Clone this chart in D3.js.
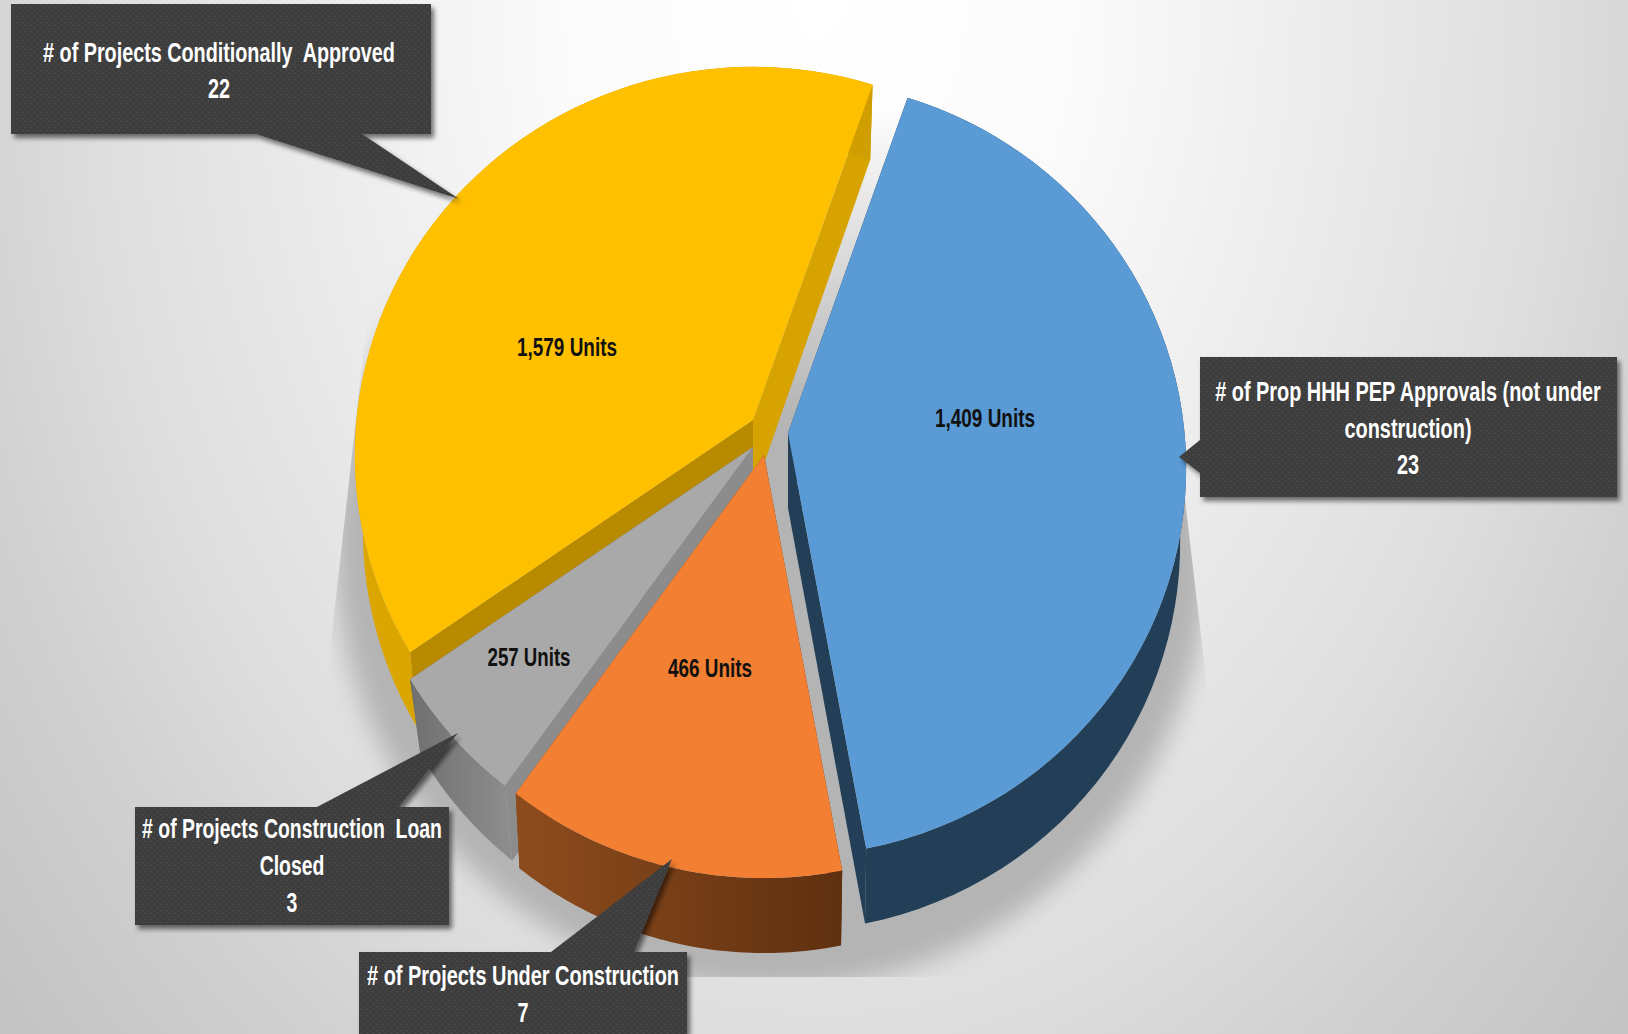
<!DOCTYPE html>
<html>
<head>
<meta charset="utf-8">
<script src="https://cdn.jsdelivr.net/npm/d3@7"></script>
<style>
html, body { margin: 0; padding: 0; background: #fff; overflow: hidden; }
svg { display: block; }
text { font-family: "Liberation Sans", sans-serif; font-weight: bold; text-anchor: middle; white-space: pre; }
</style>
</head>
<body>
<div id="chart"></div>
<script>
// data, clockwise from the blue slice
var categories = ["# of Prop HHH PEP Approvals (not under construction)", "# of Projects Under Construction", "# of Projects Construction Loan Closed", "# of Projects Conditionally  Approved"];
var projects = [23, 7, 3, 22];
var units = [1409, 466, 257, 1579];

var width = 1628, height = 1034;

// 3d look of the pie
var radius = 385, stretchX = 1.03, persp = 0.09, depth = 75;
var converge = [0.985, 0.985, 0.97, 0.98];
var startDeg = 19.1;
var apex = [[788, 433], [764, 455], [753, 447], [753, 420]];
var topColors = ["#5B9BD5", "#F37F32", "#A9A9A9", "#FFC000"];
var rimColors = [["#223F57", "#223F57"], ["#8E4C1D", "#5F3010"], ["#6F6F6F", "#8E8E8E"], ["#DBA600", "#CF9E00"]];
var cutStart = ["#223F57", "#5F3010", "#8C8C8C", "#B88A00"];
var cutEnd = ["#223F57", "#8E4C1D", "#6A6A6A", "#D6A300"];
var drawOrder = [3, 2, 1, 0];

// callout boxes: x, y, w, h, pointer, and where the text lines sit
var callouts = [
    {i: 0, box: [1200, 357, 417, 140], ptr: [[1200, 440], [1179, 457], [1200, 473]], split: ["# of Prop HHH PEP Approvals (not under", "construction)"], base: [401, 438, 474], cx: 1408, fit: 386},
    {i: 1, box: [359, 952, 328, 82], ptr: [[551, 952], [672, 859], [634, 952]], split: ["# of Projects Under Construction"], base: [985, 1022], cx: 523, fit: 312},
    {i: 2, box: [135, 807, 314, 118], ptr: [[317, 807], [458, 733], [399, 807]], split: ["# of Projects Construction  Loan", "Closed"], base: [838, 875, 912], cx: 292, fit: 300},
    {i: 3, box: [11, 4, 420, 130], ptr: [[256, 134], [459, 199], [362, 134]], split: ["# of Projects Conditionally  Approved"], base: [62, 98], cx: 219, fit: 352}
];
var labelPos = [[985, 418, 100], [710, 668, 84], [529, 657, 83], [567, 347, 100]];

var svg = d3.select("#chart").append("svg").attr("width", width).attr("height", height);
var defs = svg.append("defs");

var bg = defs.append("radialGradient").attr("id", "bg").attr("gradientUnits", "userSpaceOnUse")
    .attr("cx", 0).attr("cy", 0).attr("r", 1)
    .attr("gradientTransform", "translate(820,0) scale(1105,1560)");
[[0, "#ffffff"], [0.23, "#fbfbfb"], [0.66, "#dedede"], [0.81, "#d0d0d0"], [1, "#c2c2c2"]].forEach(s => {
    bg.append("stop").attr("offset", s[0]).attr("stop-color", s[1]);
});

var fade = defs.append("linearGradient").attr("id", "shade").attr("gradientUnits", "userSpaceOnUse")
    .attr("x1", 0).attr("x2", 0).attr("y1", 110).attr("y2", 420);
fade.append("stop").attr("offset", "0").attr("stop-color", "#b4b4b4").attr("stop-opacity", 0);
fade.append("stop").attr("offset", "1").attr("stop-color", "#b4b4b4").attr("stop-opacity", 1);

defs.append("filter").attr("id", "blur").attr("x", "-20%").attr("y", "-20%").attr("width", "140%").attr("height", "140%")
    .append("feGaussianBlur").attr("stdDeviation", 13);
var drop = defs.append("filter").attr("id", "drop").attr("x", "-10%").attr("y", "-10%").attr("width", "120%").attr("height", "125%");
drop.append("feDropShadow").attr("dx", 3).attr("dy", 4).attr("stdDeviation", 2.5).attr("flood-color", "#000").attr("flood-opacity", 0.55);

var dots = defs.append("pattern").attr("id", "dots").attr("patternUnits", "userSpaceOnUse").attr("width", 6).attr("height", 6);
dots.append("rect").attr("width", 6).attr("height", 6).attr("fill", "#3c3c3c");
dots.append("circle").attr("cx", 1.5).attr("cy", 1.5).attr("r", 1).attr("fill", "#4b4b4b");
dots.append("circle").attr("cx", 4.5).attr("cy", 4.5).attr("r", 1).attr("fill", "#4b4b4b");

var line = d3.line();

// the shadow has sharp slanted sides and a flat floor
defs.append("clipPath").attr("id", "floor").append("path")
    .attr("d", line([[390, 110], [1100, 110], [1100, 300], [1180, 460], [1185, 500], [1205, 670], [1214, 780], [1214, 977], [318, 977], [322, 760], [332, 633], [360, 383]]) + "Z");

svg.append("rect").attr("width", width).attr("height", height).attr("fill", "url(#bg)");

// pie angles, from the project counts
var arcs = d3.pie().sort(null).value(d => d)
    .startAngle(startDeg * Math.PI / 180)
    .endAngle((startDeg + 360) * Math.PI / 180)(projects);

var xScale = d3.scaleLinear().domain([-1, 1]).range([-radius * stretchX, radius * stretchX]);
var yScale = d3.scaleLinear().domain([-1, 1]).range([-radius, radius]);

function project(i, a, low) {
    var X = Math.sin(a), Y = -Math.cos(a);
    var f = 1 / (1 - persp * Y);
    var x = xScale(X) * f, y = yScale(Y) * f;
    if (low) return [apex[i][0] + x * converge[i], apex[i][1] + y + depth];
    return [apex[i][0] + x, apex[i][1] + y];
}

function rimPoints(i, low) {
    var a0 = arcs[i].startAngle, a1 = arcs[i].endAngle;
    return d3.range(0, 61).map(k => project(i, a0 + (a1 - a0) * k / 60, low));
}

// soft shadow under the pie
svg.append("g").attr("clip-path", "url(#floor)")
    .append("ellipse").attr("cx", 772).attr("cy", 545).attr("rx", 438).attr("ry", 445)
    .attr("fill", "url(#shade)").attr("filter", "url(#blur)");

var sliceG = svg.append("g");
drawOrder.forEach(i => {
    var grad = defs.append("linearGradient").attr("id", "rim" + i);
    grad.append("stop").attr("offset", "0").attr("stop-color", rimColors[i][0]);
    grad.append("stop").attr("offset", "1").attr("stop-color", rimColors[i][1]);

    var top = rimPoints(i, false), low = rimPoints(i, true);
    var apexTop = apex[i], apexLow = [apex[i][0], apex[i][1] + depth];

    sliceG.append("path").attr("d", line([apexTop, top[60], low[60], apexLow]) + "Z").attr("fill", cutEnd[i]);
    sliceG.append("path").attr("d", line([apexTop, top[0], low[0], apexLow]) + "Z").attr("fill", cutStart[i]);
    sliceG.append("path").attr("d", line(top.concat(low.slice().reverse())) + "Z").attr("fill", "url(#rim" + i + ")");
    sliceG.append("path").attr("d", line([apexTop].concat(top)) + "Z").attr("fill", topColors[i]);
});

// unit labels on the slices
var fmt = d3.format(",");
svg.append("g").selectAll("text").data(units).join("text")
    .attr("x", (d, i) => labelPos[i][0])
    .attr("y", (d, i) => labelPos[i][1] + 9)
    .attr("font-size", 26)
    .attr("fill", "#111")
    .attr("textLength", (d, i) => labelPos[i][2])
    .attr("lengthAdjust", "spacingAndGlyphs")
    .text(d => fmt(d) + " Units");

// callouts, the first line sets how much the font gets squeezed
callouts.forEach(c => {
    var g = svg.append("g").attr("filter", "url(#drop)");
    g.append("path")
        .attr("d", line(c.ptr) + "Z")
        .attr("fill", "url(#dots)");
    g.append("rect")
        .attr("x", c.box[0]).attr("y", c.box[1]).attr("width", c.box[2]).attr("height", c.box[3])
        .attr("fill", "url(#dots)");
    var lines = c.split.concat([String(projects[c.i])]);
    var squeeze = 1;
    lines.forEach((l, k) => {
        var t = svg.append("text").attr("font-size", 27).attr("fill", "#fff").text(l);
        if (k == 0) squeeze = c.fit / t.node().getComputedTextLength();
        t.attr("transform", "translate(" + c.cx + "," + c.base[k] + ") scale(" + squeeze + ",1)");
    });
});
</script>
</body>
</html>
